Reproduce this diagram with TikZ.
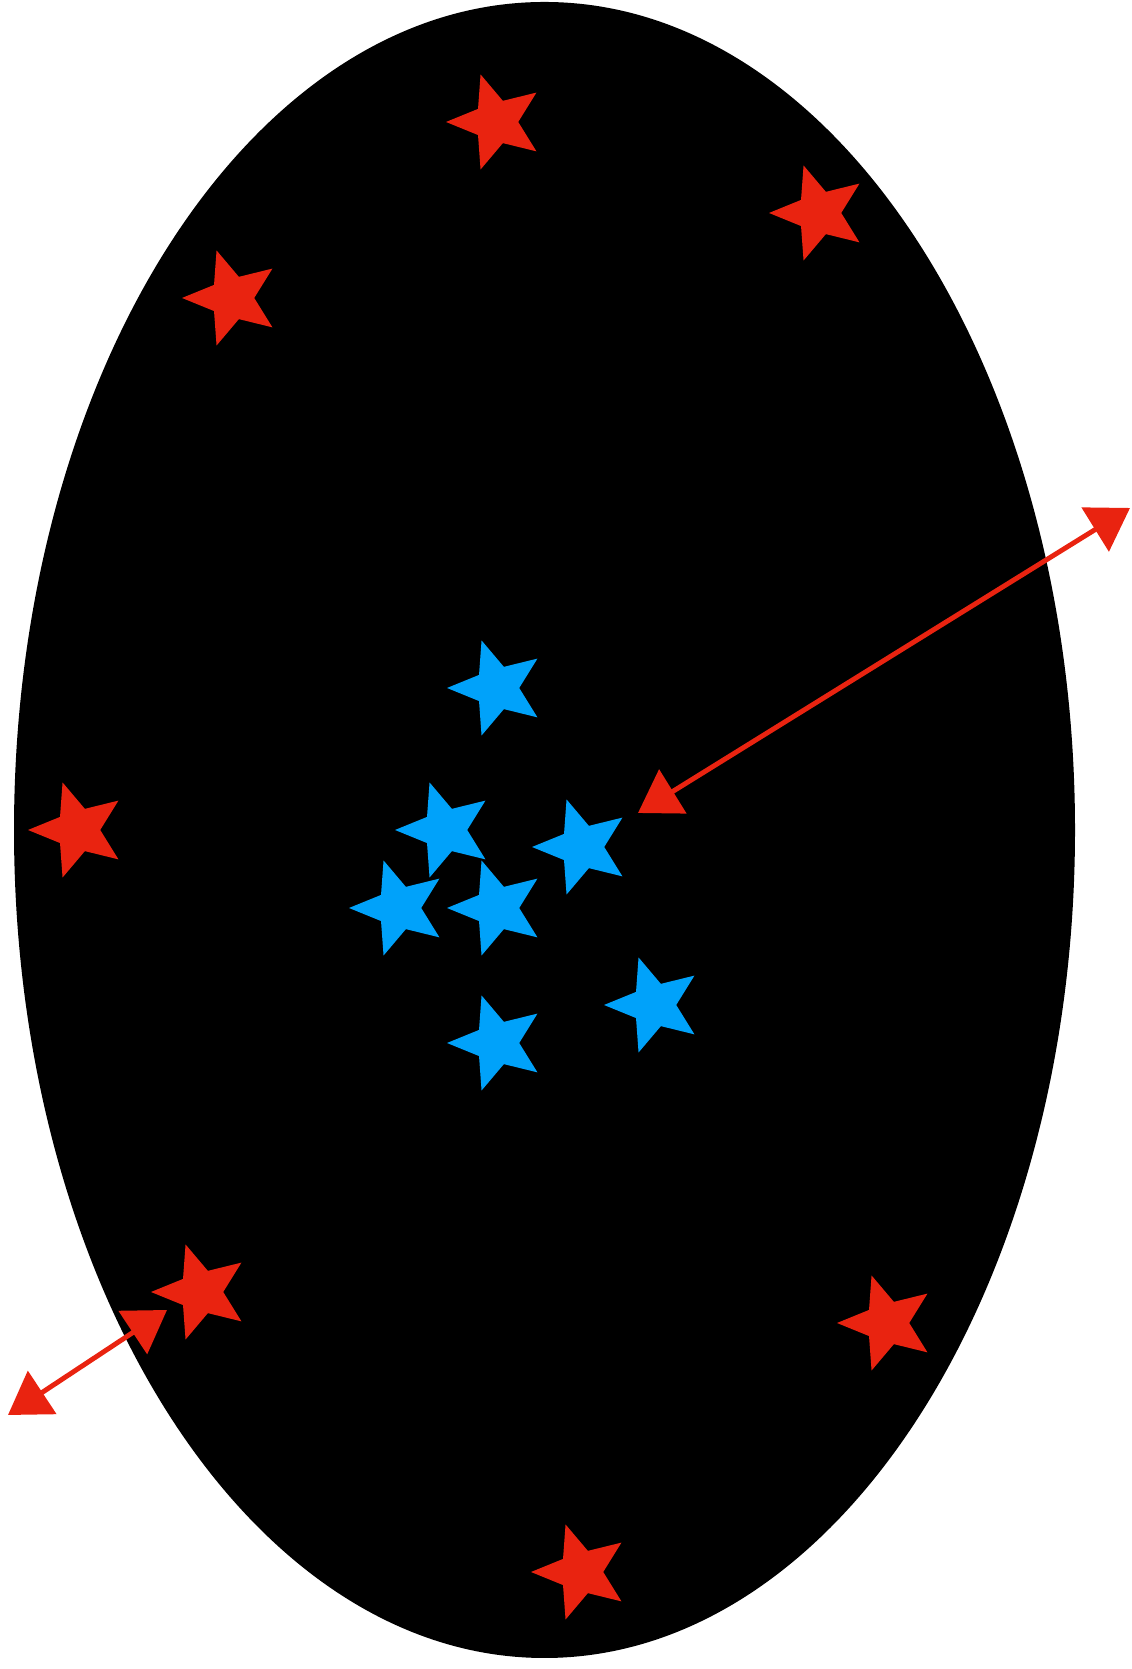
\documentclass[tikz,border=0pt]{standalone}
\usetikzlibrary{shapes.geometric,arrows.meta}
\definecolor{starred}{RGB}{233,35,16}
\definecolor{starblue}{RGB}{0,162,250}
\tikzset{
  starnode/.style={star,star points=5,star point ratio=2.25,
    shape border rotate=90,minimum size=1.0cm,inner sep=0pt,draw=none},
  redstar/.style={starnode,fill=starred},
  bluestar/.style={starnode,fill=starblue},
  ray/.style={starred,line width=1.4pt,
    {Triangle[length=4.1mm,width=5.1mm]}-{Triangle[length=4.1mm,width=5.1mm]}}
}
\begin{document}
\begin{tikzpicture}[x=1cm,y=1cm]
  \useasboundingbox (0,0) rectangle (11.31,16.69);
  \fill[black] (5.445,8.39) ellipse [x radius=5.305,y radius=8.28];

  % Outer (red) stars near the rim.
  \foreach \nm/\pos in {rt/{4.96,15.47}, rtr/{8.19,14.56}, rtl/{2.32,13.71},
      rl/{0.78,8.39}, rbl/{2.01,3.77}, rbr/{8.87,3.46}, rb/{5.81,0.97}}{
    \node[redstar] (\nm) at (\pos) {};
  }

  % Inner (blue) cluster.
  \foreach \nm/\pos in {ba/{4.97,9.81}, bb/{4.45,8.39}, bc/{5.82,8.22},
      bd/{3.99,7.61}, be/{4.97,7.61}, bf/{6.54,6.64}, bg/{4.97,6.26}}{
    \node[bluestar] (\nm) at (\pos) {};
  }

  % Displacement arrows.
  \coordinate (inA) at (6.38,8.56);
  \coordinate (outA) at (11.30,11.61);
  \draw[ray] (inA)--(outA);
  \coordinate (inB) at (1.67,3.59);
  \coordinate (outB) at (0.08,2.54);
  \draw[ray] (outB)--(inB);
\end{tikzpicture}
\end{document}
